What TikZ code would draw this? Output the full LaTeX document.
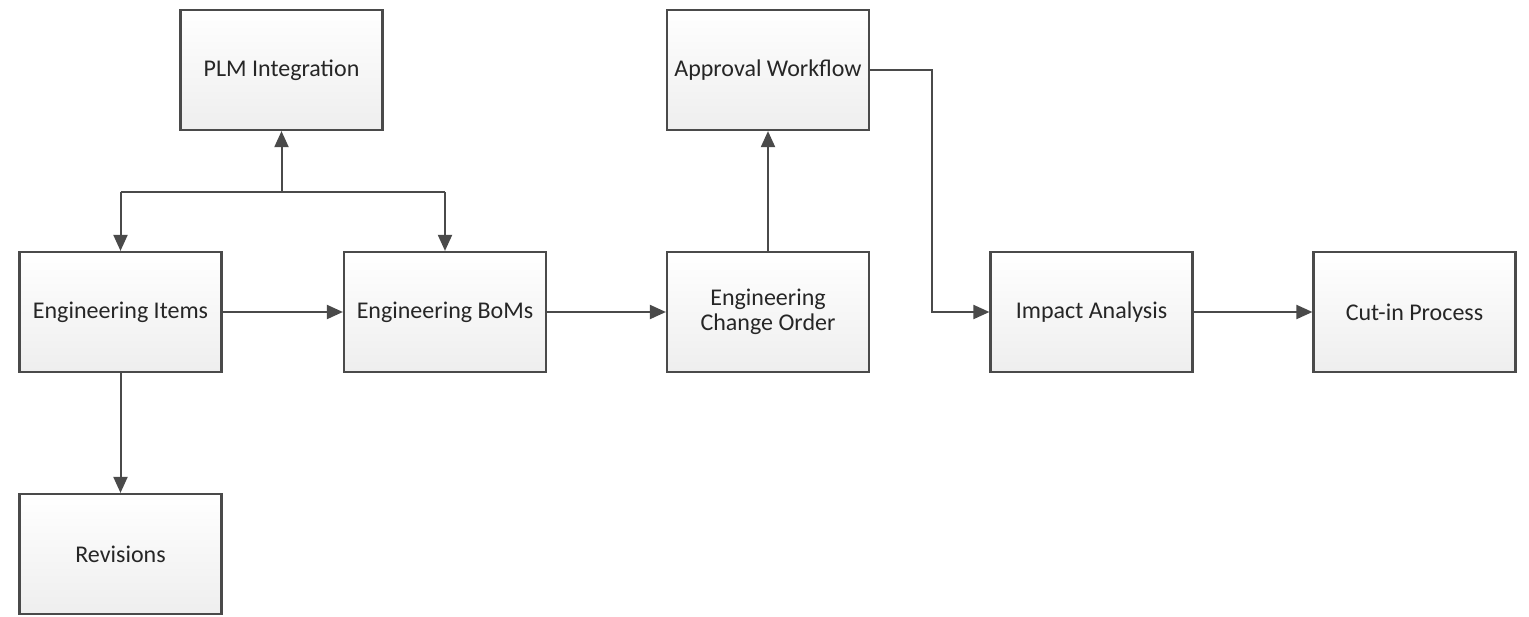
\documentclass[tikz,border=0pt]{standalone}
\usepackage{fontspec}
\setmainfont{Carlito}
\usetikzlibrary{arrows.meta}
\definecolor{edgegray}{HTML}{4A4A4A}
\definecolor{boxbot}{HTML}{EEEEEE}
\tikzset{
  procbox/.style={draw=edgegray, line width=2.2pt, top color=white, bottom color=boxbot,
    minimum width=202pt, minimum height=120pt, inner sep=0pt, align=center,
    font=\fontsize{24}{25}\selectfont, text=black!85},
  conn/.style={draw=edgegray, line width=2pt, -{Triangle[length=16pt,width=14pt]}},
  plainconn/.style={draw=edgegray, line width=2pt}
}
\begin{document}
\begin{tikzpicture}[x=1pt,y=-1pt]
\useasboundingbox (0,0) rectangle (1529,616);
\node[procbox] (plm) at (281.5,70) {PLM Integration};
\node[procbox] (items) at (120.5,312) {Engineering Items};
\node[procbox] (rev) at (120.5,554) {Revisions};
\node[procbox] (boms) at (445,312) {Engineering BoMs};
\node[procbox] (eco) at (768,312) {Engineering\\Change Order};
\node[procbox] (appr) at (768,70) {Approval Workflow};
\node[procbox] (impact) at (1091.5,312) {Impact Analysis};
\node[procbox] (cutin) at (1414.5,312) {Cut-in Process};
\coordinate (jn) at (281.5,192);
\coordinate (jl) at (120.5,192);
\coordinate (jr) at (445,192);
\coordinate (bend) at (932,70);
\draw[conn] (jn) -- (plm.south);
\draw[plainconn] (jl) -- (jr);
\draw[conn] (jl) -- (items.north);
\draw[conn] (jr) -- (boms.north);
\draw[conn] (items) -- (boms);
\draw[conn] (items) -- (rev);
\draw[conn] (boms) -- (eco);
\draw[conn] (eco) -- (appr);
\draw[conn] (appr.east) -- (bend) |- (impact.west);
\draw[conn] (impact) -- (cutin);
\end{tikzpicture}
\end{document}
